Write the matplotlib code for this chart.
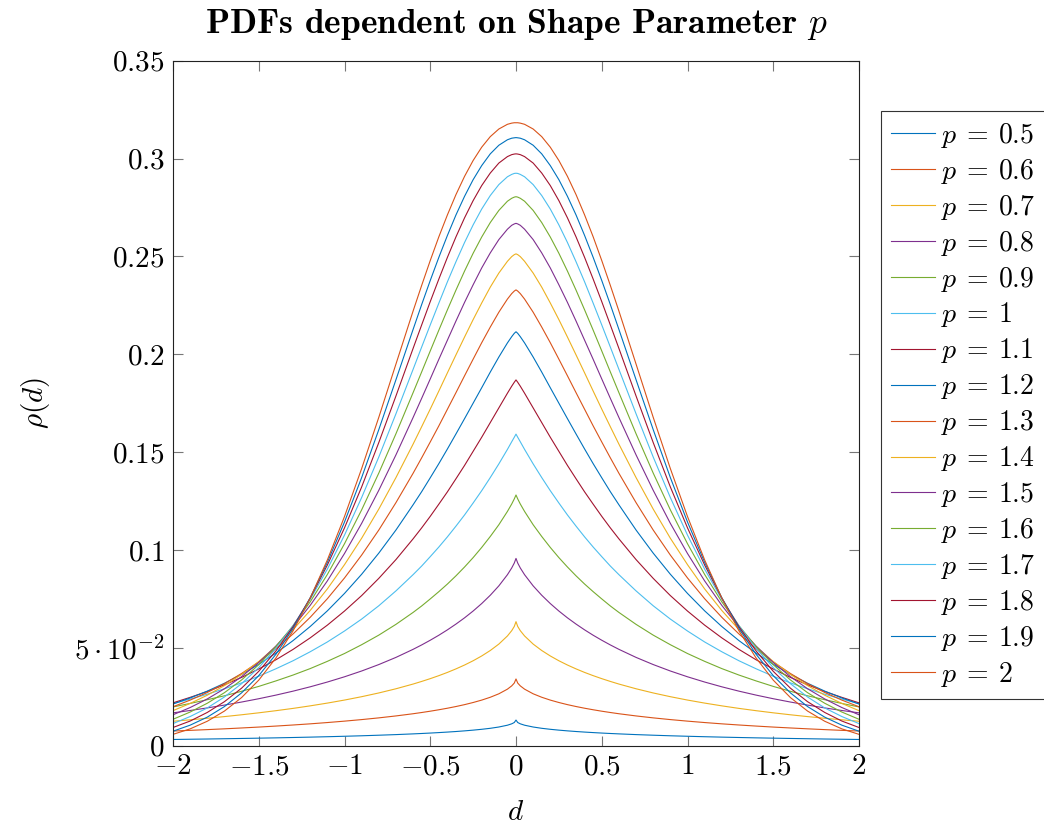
import matplotlib
matplotlib.use("Agg")
import matplotlib.pyplot as plt
import numpy as np
from matplotlib.ticker import FixedLocator, FixedFormatter

plt.rcParams['mathtext.fontset'] = 'cm'
plt.rcParams['font.family'] = ['cmr10', 'DejaVu Serif']
plt.rcParams['axes.unicode_minus'] = False

# sample positions (d >= 0); curves are symmetric about d = 0
d_half = [0.0, 0.01, 0.025, 0.05, 0.1, 0.15, 0.2, 0.25, 0.3, 0.35, 0.4, 0.45, 0.5, 0.55,
          0.6, 0.7, 0.8, 0.9, 1.0, 1.1, 1.2, 1.3, 1.4, 1.5, 1.6, 1.7, 1.8, 1.9, 2.0]

p_labels = ['0.5', '0.6', '0.7', '0.8', '0.9', '1', '1.1', '1.2', '1.3', '1.4',
            '1.5', '1.6', '1.7', '1.8', '1.9', '2']

rho_p05 = [0.0131, 0.01185, 0.01118, 0.01047, 0.00955, 0.00889, 0.00838, 0.00795, 0.00758, 0.00725, 0.00696,
           0.00670, 0.00646, 0.00624, 0.00604, 0.00567, 0.00536, 0.00507, 0.00482, 0.00459, 0.00438, 0.00419,
           0.00401, 0.00385, 0.00370, 0.00356, 0.00342, 0.00330, 0.00318]
rho_p06 = [0.0341, 0.03201, 0.03057, 0.02889, 0.02652, 0.02475, 0.02330, 0.02207, 0.02098, 0.02002, 0.01915,
           0.01836, 0.01763, 0.01696, 0.01633, 0.01521, 0.01422, 0.01334, 0.01255, 0.01183, 0.01117, 0.01058,
           0.01003, 0.00952, 0.00906, 0.00862, 0.00822, 0.00784, 0.00749]
rho_p07 = [0.0634, 0.06093, 0.05878, 0.05607, 0.05193, 0.04864, 0.04585, 0.04340, 0.04122, 0.03925, 0.03744,
           0.03579, 0.03426, 0.03284, 0.03150, 0.02909, 0.02695, 0.02504, 0.02332, 0.02177, 0.02036, 0.01906,
           0.01789, 0.01680, 0.01580, 0.01487, 0.01402, 0.01323, 0.01249]
rho_p08 = [0.0957, 0.09333, 0.09082, 0.08737, 0.08167, 0.07687, 0.07263, 0.06881, 0.06533, 0.06215, 0.05919,
           0.05644, 0.05389, 0.05149, 0.04924, 0.04512, 0.04146, 0.03817, 0.03521, 0.03253, 0.03009, 0.02787,
           0.02585, 0.02400, 0.02231, 0.02075, 0.01931, 0.01799, 0.01678]
rho_p09 = [0.1281, 0.1261, 0.1235, 0.1197, 0.1129, 0.1069, 0.1013, 0.0961, 0.0913, 0.0868, 0.0826,
           0.0787, 0.0750, 0.0714, 0.0681, 0.0620, 0.0565, 0.0516, 0.0471, 0.0431, 0.0394, 0.0361,
           0.0331, 0.0303, 0.0278, 0.0255, 0.0235, 0.0216, 0.0198]
rho_p10 = [0.1592, 0.1576, 0.1553, 0.1514, 0.1440, 0.1370, 0.1303, 0.1240, 0.1179, 0.1122, 0.1067,
           0.1015, 0.0966, 0.0918, 0.0874, 0.0791, 0.0715, 0.0647, 0.0586, 0.0530, 0.0480, 0.0434,
           0.0393, 0.0355, 0.0321, 0.0291, 0.0263, 0.0238, 0.0215]
rho_p11 = [0.1869, 0.1857, 0.1837, 0.1801, 0.1726, 0.1651, 0.1576, 0.1504, 0.1432, 0.1364, 0.1297,
           0.1234, 0.1172, 0.1113, 0.1057, 0.0951, 0.0855, 0.0767, 0.0688, 0.0616, 0.0551, 0.0492,
           0.0439, 0.0392, 0.0349, 0.0311, 0.0277, 0.0247, 0.0219]
rho_p12 = [0.2115, 0.2107, 0.2090, 0.2058, 0.1986, 0.1909, 0.1829, 0.1750, 0.1671, 0.1593, 0.1516,
           0.1441, 0.1369, 0.1298, 0.1231, 0.1102, 0.0984, 0.0876, 0.0778, 0.0689, 0.0609, 0.0537,
           0.0473, 0.0416, 0.0365, 0.0319, 0.0279, 0.0244, 0.0213]
rho_p13 = [0.2329, 0.2323, 0.2310, 0.2282, 0.2215, 0.2139, 0.2059, 0.1975, 0.1890, 0.1804, 0.1719,
           0.1634, 0.1552, 0.1471, 0.1392, 0.1242, 0.1102, 0.0974, 0.0857, 0.0751, 0.0656, 0.0571,
           0.0495, 0.0428, 0.0369, 0.0317, 0.0272, 0.0233, 0.0199]
rho_p14 = [0.2513, 0.2509, 0.2499, 0.2475, 0.2415, 0.2343, 0.2262, 0.2177, 0.2088, 0.1997, 0.1905,
           0.1812, 0.1720, 0.1630, 0.1541, 0.1370, 0.1209, 0.1060, 0.0925, 0.0801, 0.0691, 0.0593,
           0.0507, 0.0430, 0.0364, 0.0307, 0.0258, 0.0216, 0.0179]
rho_p15 = [0.2669, 0.2666, 0.2659, 0.2639, 0.2586, 0.2518, 0.2441, 0.2355, 0.2265, 0.2170, 0.2072,
           0.1974, 0.1874, 0.1775, 0.1677, 0.1486, 0.1305, 0.1136, 0.0982, 0.0842, 0.0717, 0.0606,
           0.0509, 0.0425, 0.0353, 0.0291, 0.0239, 0.0195, 0.0158]
rho_p16 = [0.2805, 0.2803, 0.2797, 0.2782, 0.2735, 0.2673, 0.2599, 0.2516, 0.2425, 0.2328, 0.2227,
           0.2123, 0.2017, 0.1910, 0.1804, 0.1594, 0.1393, 0.1205, 0.1032, 0.0875, 0.0735, 0.0613,
           0.0506, 0.0414, 0.0336, 0.0271, 0.0217, 0.0172, 0.0135]
rho_p17 = [0.2925, 0.2924, 0.2919, 0.2907, 0.2867, 0.2811, 0.2742, 0.2661, 0.2571, 0.2473, 0.2370,
           0.2261, 0.2150, 0.2037, 0.1923, 0.1696, 0.1475, 0.1268, 0.1076, 0.0902, 0.0748, 0.0613,
           0.0497, 0.0399, 0.0317, 0.0249, 0.0193, 0.0149, 0.0113]
rho_p18 = [0.3024, 0.3023, 0.3020, 0.3010, 0.2977, 0.2926, 0.2862, 0.2785, 0.2697, 0.2600, 0.2495,
           0.2384, 0.2269, 0.2150, 0.2030, 0.1787, 0.1549, 0.1322, 0.1113, 0.0923, 0.0754, 0.0608,
           0.0484, 0.0380, 0.0294, 0.0225, 0.0170, 0.0126, 0.0093]
rho_p19 = [0.3107, 0.3106, 0.3104, 0.3096, 0.3068, 0.3024, 0.2964, 0.2892, 0.2807, 0.2712, 0.2607,
           0.2495, 0.2377, 0.2254, 0.2127, 0.1870, 0.1615, 0.1370, 0.1143, 0.0937, 0.0756, 0.0599,
           0.0467, 0.0358, 0.0270, 0.0200, 0.0146, 0.0105, 0.0074]
rho_p20 = [0.3183, 0.3183, 0.3181, 0.3175, 0.3151, 0.3112, 0.3058, 0.2990, 0.2909, 0.2816, 0.2712,
           0.2600, 0.2479, 0.2352, 0.2221, 0.1950, 0.1678, 0.1416, 0.1171, 0.0949, 0.0754, 0.0587,
           0.0448, 0.0335, 0.0246, 0.0177, 0.0125, 0.0086, 0.0058]

series = [rho_p05, rho_p06, rho_p07, rho_p08, rho_p09, rho_p10, rho_p11, rho_p12,
          rho_p13, rho_p14, rho_p15, rho_p16, rho_p17, rho_p18, rho_p19, rho_p20]

x_ticks = [-2, -1.5, -1, -0.5, 0, 0.5, 1, 1.5, 2]
x_tick_labels = [r'$-2$', r'$-1.5$', r'$-1$', r'$-0.5$', r'$0$', r'$0.5$', r'$1$', r'$1.5$', r'$2$']
y_ticks = [0, 0.05, 0.1, 0.15, 0.2, 0.25, 0.3, 0.35]
y_tick_labels = [r'$0$', r'$5\cdot10^{-2}$', r'$0.1$', r'$0.15$', r'$0.2$', r'$0.25$', r'$0.3$', r'$0.35$']

colors = ['#0072BD', '#D95319', '#EDB120', '#7E2F8E', '#77AC30', '#4DBEEE', '#A2142F']

W, H = 1044, 827
fig = plt.figure(figsize=(W / 100, H / 100), dpi=100)
ax = fig.add_axes([173 / W, 1 - 745.7 / H, (859 - 173) / W, (745.7 - 60.7) / H])

dh = np.array(d_half)
d_full = np.concatenate([-dh[::-1], dh[1:]])
for i, (vals, lab) in enumerate(zip(series, p_labels)):
    v = np.array(vals)
    v_full = np.concatenate([v[::-1], v[1:]])
    ax.plot(d_full, v_full, color=colors[i % len(colors)], lw=0.8,
            label=r'$p\:=\:%s$' % lab)

ax.set_xlim(-2, 2)
ax.set_ylim(0, 0.35)
ax.xaxis.set_major_locator(FixedLocator(x_ticks))
ax.xaxis.set_major_formatter(FixedFormatter(x_tick_labels))
ax.yaxis.set_major_locator(FixedLocator(y_ticks))
ax.yaxis.set_major_formatter(FixedFormatter(y_tick_labels))
ax.tick_params(direction='in', top=True, right=True, length=7, width=0.8,
               color='#777777', labelsize=21, pad=6)
for s in ax.spines.values():
    s.set_linewidth(0.8)
    s.set_color('#222222')

ax.set_xlabel(r'$d$', fontsize=21, labelpad=14)
ax.set_ylabel(r'$\rho(d)$', fontsize=21, labelpad=16)
ax.set_title(r'PDFs dependent on Shape Parameter $p$', fontsize=25.5,
             family=['cmb10', 'DejaVu Serif'], pad=20)

leg = ax.legend(loc='upper left', bbox_to_anchor=(881 / W, 1 - 111 / H),
                bbox_transform=fig.transFigure, fontsize=20, frameon=True,
                fancybox=False, edgecolor='#333333', framealpha=1,
                handlelength=1.6, handletextpad=0.2, labelspacing=0.25,
                borderpad=0.35, borderaxespad=0)
leg.get_frame().set_linewidth(0.8)

fig.savefig('out.png', dpi=100)
